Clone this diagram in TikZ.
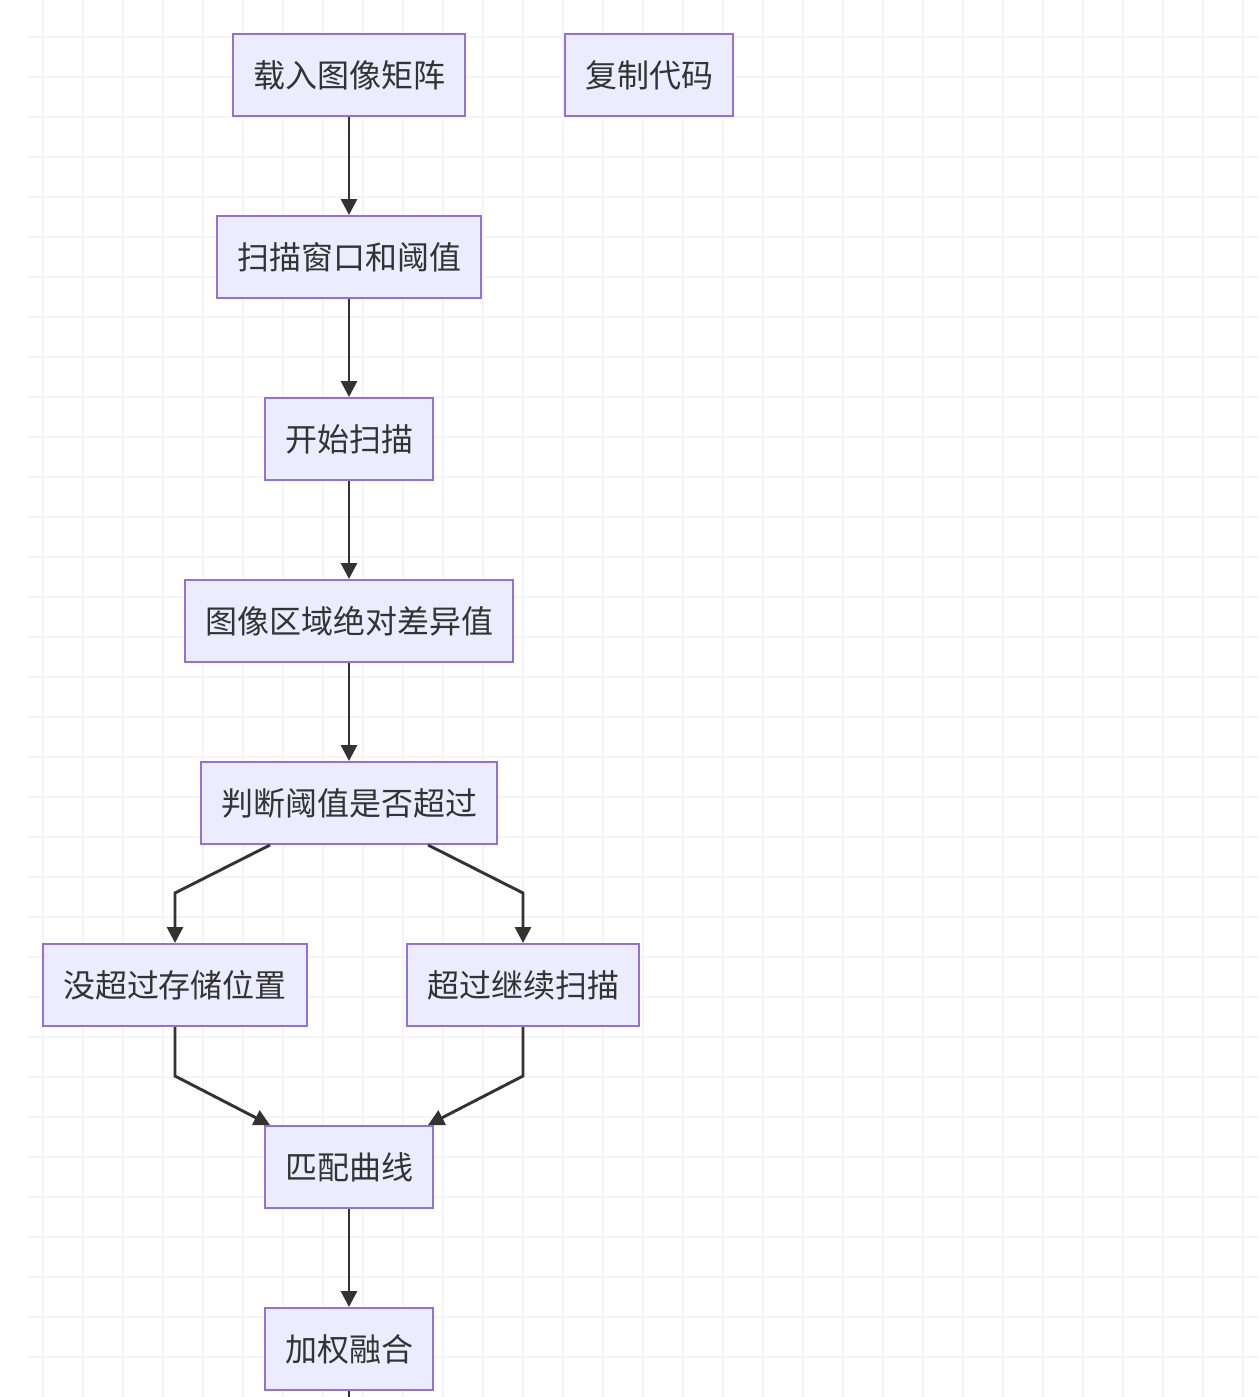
\documentclass[tikz,border=0pt]{standalone}
\usepackage{fontspec}
\setmainfont{Noto Sans CJK SC}
\usetikzlibrary{arrows.meta}
\definecolor{nodefill}{HTML}{ECECFF}
\definecolor{nodeborder}{HTML}{9370DB}
\definecolor{edgecol}{HTML}{333333}
\definecolor{gridcol}{HTML}{F3F5F7}
\tikzset{
  box/.style={draw=nodeborder, fill=nodefill, line width=1.5pt, text=edgecol,
    minimum height=61.5pt, inner xsep=0pt, font=\fontsize{24pt}{28pt}\selectfont},
  edge/.style={draw=edgecol, line width=2.2pt, -{Triangle[length=12pt,width=12pt]}},
  plainedge/.style={draw=edgecol, line width=2.2pt},
}
\begin{document}
\begin{tikzpicture}[x=0.75pt,y=-0.75pt]
\fill[white] (0,0) rectangle (1258,1397);
\useasboundingbox (0,0) rectangle (1258,1397);
% grid
\foreach \gx in {43,83,...,1243} \draw[gridcol, line width=1.1pt] (\gx,0) -- (\gx,1397);
\foreach \gy in {37,77,...,1357} \draw[gridcol, line width=1.1pt] (28,\gy) -- (1258,\gy);
% nodes
\node[box, minimum width=174pt] (n1) at (349,75) {载入图像矩阵};
\node[box, minimum width=126pt] (copy) at (649,75) {复制代码};
\node[box, minimum width=198pt] (n2) at (349,257) {扫描窗口和阈值};
\node[box, minimum width=126pt] (n3) at (349,439) {开始扫描};
\node[box, minimum width=246pt] (n4) at (349,621) {图像区域绝对差异值};
\node[box, minimum width=222pt] (n5) at (349,803) {判断阈值是否超过};
\node[box, minimum width=198pt] (n6) at (175,985) {没超过存储位置};
\node[box, minimum width=174pt] (n7) at (523,985) {超过继续扫描};
\node[box, minimum width=126pt] (n8) at (349,1167) {匹配曲线};
\node[box, minimum width=126pt] (n9) at (349,1349) {加权融合};
\coordinate (tail) at (349,1400);
% edges
\draw[edge] (n1) -- (n2);
\draw[edge] (n2) -- (n3);
\draw[edge] (n3) -- (n4);
\draw[edge] (n4) -- (n5);
\draw[edge] ([xshift=-59.25pt]n5.south) -- (175,893) -- (n6.north);
\draw[edge] ([xshift=59.25pt]n5.south) -- (523,893) -- (n7.north);
\draw[edge] (n6.south) -- (175,1076) -- ([xshift=-59.25pt]n8.north);
\draw[edge] (n7.south) -- (523,1076) -- ([xshift=59.25pt]n8.north);
\draw[edge] (n8) -- (n9);
\draw[plainedge] (n9) -- (tail);
\end{tikzpicture}
\end{document}
